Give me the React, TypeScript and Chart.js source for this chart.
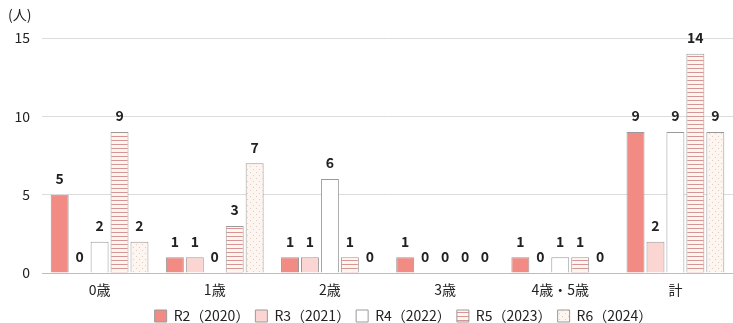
import React, { useEffect, useRef } from "react";
import { Chart, registerables } from "chart.js";

Chart.register(...registerables);

const categories = ["0歳", "1歳", "2歳", "3歳", "4歳・5歳", "計"];
const seriesNames = ["R2（2020）", "R3（2021）", "R4（2022）", "R5（2023）", "R6（2024）"];
const r2Values = [5, 1, 1, 1, 1, 9];
const r3Values = [0, 1, 1, 0, 0, 2];
const r4Values = [2, 0, 6, 0, 1, 9];
const r5Values = [9, 3, 1, 0, 1, 14];
const r6Values = [2, 7, 0, 0, 0, 9];
const yTicks = [0, 5, 10, 15];

const FONT = "'Noto Sans CJK JP', sans-serif";
const TEXT = "#222222";
const BORDER = "#9a9a9a";

function stripePattern(): CanvasPattern | string {
  const c = document.createElement("canvas");
  c.width = 4;
  c.height = 4;
  const g = c.getContext("2d");
  if (!g) return "#fbe";
  g.fillStyle = "#fff7ea";
  g.fillRect(0, 0, 4, 4);
  g.fillStyle = "#d7959b";
  g.fillRect(0, 0, 4, 1);
  return g.createPattern(c, "repeat") || "#fbe";
}

function dotPattern(): CanvasPattern | string {
  const c = document.createElement("canvas");
  c.width = 6;
  c.height = 6;
  const g = c.getContext("2d");
  if (!g) return "#fef";
  g.fillStyle = "#fdf5f0";
  g.fillRect(0, 0, 6, 6);
  g.fillStyle = "#e3cbc4";
  g.fillRect(1, 1, 1, 1);
  g.fillRect(4, 4, 1, 1);
  return g.createPattern(c, "repeat") || "#fef";
}

// Value labels above each bar and the unit caption over the y axis
const annotations = {
  id: "annotations",
  afterLayout(chart: any) {
    // nudge the legend row a little to the right
    if (chart.legend) {
      chart.legend.left += 16;
      chart.legend.right += 16;
    }
  },
  afterDatasetsDraw(chart: any) {
    const ctx = chart.ctx;
    ctx.save();
    ctx.fillStyle = TEXT;
    ctx.textAlign = "center";
    ctx.textBaseline = "middle";
    ctx.font = `bold 14px ${FONT}`;
    chart.data.datasets.forEach((ds: any, i: number) => {
      const meta = chart.getDatasetMeta(i);
      meta.data.forEach((bar: any, j: number) => {
        ctx.fillText(String(ds.data[j]), bar.x, bar.y - 16);
      });
    });
    ctx.font = `14px ${FONT}`;
    ctx.textAlign = "left";
    ctx.fillText("(人)", 8, 15);
    ctx.restore();
  },
};

export default function App() {
  const ref = useRef<HTMLCanvasElement | null>(null);

  useEffect(() => {
    if (!ref.current) return;
    const values = [r2Values, r3Values, r4Values, r5Values, r6Values];
    const fills: (string | CanvasPattern)[] = ["#f28b84", "#fbd5d1", "#ffffff", stripePattern(), dotPattern()];
    const chart = new Chart(ref.current, {
      type: "bar",
      data: {
        labels: categories,
        datasets: values.map((v, i) => ({
          label: seriesNames[i],
          data: v,
          backgroundColor: fills[i] as any,
          borderColor: BORDER,
          borderWidth: 1,
          barPercentage: 0.9,
          categoryPercentage: 0.866,
        })),
      },
      options: {
        animation: false,
        responsive: false,
        maintainAspectRatio: false,
        layout: { padding: { top: 38, right: 0, left: 0, bottom: -10 } },
        plugins: {
          legend: {
            position: "bottom",
            fullSize: false,
            labels: {
              color: TEXT,
              font: { family: FONT, size: 14 },
              boxWidth: 12,
              boxHeight: 12,
              padding: 6,
            },
          },
          tooltip: { enabled: false },
        },
        scales: {
          x: {
            grid: { display: false, drawTicks: false, tickLength: 0 },
            border: { color: "#bdbdbd" },
            ticks: { color: TEXT, font: { family: FONT, size: 14 }, padding: 8 },
            afterFit: (s: any) => {
              s.height = 30;
            },
          },
          y: {
            min: 0,
            max: 15,
            afterBuildTicks: (s: any) => {
              s.ticks = yTicks.map((v) => ({ value: v }));
            },
            afterFit: (s: any) => {
              s.width = 42;
            },
            grid: { color: "#dcdcdc", drawTicks: false },
            border: { display: false },
            ticks: { color: TEXT, font: { family: FONT, size: 14 }, padding: 12 },
          },
        },
      },
      plugins: [annotations],
    });
    return () => chart.destroy();
  }, []);

  return (
    <div style={{ position: "fixed", left: 0, top: 0, width: 733, height: 323, background: "#fff" }}>
      <canvas ref={ref} width={733} height={323} />
    </div>
  );
}
